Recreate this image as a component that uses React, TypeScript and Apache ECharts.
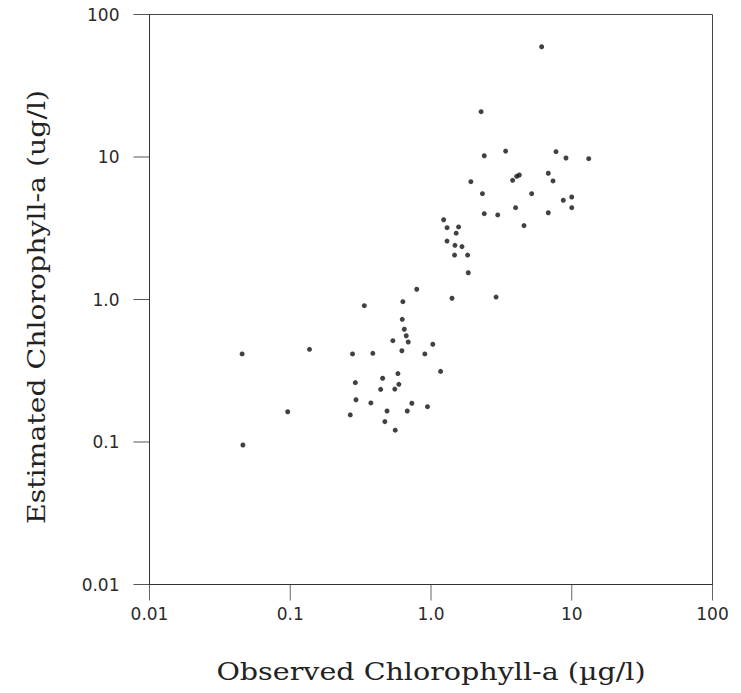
import React, { useEffect, useRef } from "react";
import * as echarts from "echarts";

// Observed chlorophyll-a (µg/l), x values
const observed: number[] = [
  6.11, 2.27, 2.39, 3.39, 7.73, 9.1, 13.2, 1.92, 3.8, 4.06, 4.24, 6.81, 7.36, 2.32, 5.19, 8.71, 10.0, 10.0,
  2.39, 2.98, 3.99, 6.81, 4.58,
  1.23, 1.3, 1.57, 1.51, 1.3, 1.48, 1.66, 1.47, 1.82, 1.84, 1.41, 2.9,
  0.792, 0.336, 0.631, 0.625, 0.646, 0.667, 0.536, 0.689, 0.621, 1.03, 0.904, 0.277, 0.386, 0.582, 1.17,
  0.453, 0.29, 0.439, 0.553, 0.591, 0.293, 0.374, 0.731, 0.944, 0.487, 0.678, 0.267, 0.47, 0.557,
  0.0455, 0.137, 0.0959, 0.0461,
];

// Estimated chlorophyll-a (ug/l), y values
const estimated: number[] = [
  59.4, 20.8, 10.2, 11.0, 10.9, 9.84, 9.73, 6.71, 6.86, 7.32, 7.48, 7.69, 6.79, 5.53, 5.53, 4.97, 5.24, 4.41,
  4.0, 3.92, 4.41, 4.06, 3.3,
  3.63, 3.19, 3.23, 2.92, 2.57, 2.4, 2.35, 2.05, 2.05, 1.54, 1.02, 1.04,
  1.18, 0.905, 0.965, 0.726, 0.618, 0.557, 0.514, 0.503, 0.437, 0.485, 0.415, 0.415, 0.419, 0.302, 0.313,
  0.28, 0.261, 0.234, 0.235, 0.254, 0.198, 0.188, 0.187, 0.177, 0.165, 0.165, 0.155, 0.139, 0.121,
  0.415, 0.447, 0.163, 0.0953,
];

const tickValues: number[] = [0.01, 0.1, 1, 10, 100];
const xTickLabels: string[] = ["0.01", "0.1", "1.0", "10", "100"];
const yTickLabels: string[] = ["0.01", "0.1", "1.0", "10", "100"];

const xTitle = "Observed Chlorophyll-a (\u00b5g/l)";
const yTitle = "Estimated Chlorophyll-a (ug/l)";

const labelFor = (labels: string[]) => (v: number) => {
  const i = Math.round(Math.log10(v)) + 2;
  return labels[i] ?? "";
};

const TICK_LEN = 16;

export default function App() {
  const ref = useRef<HTMLDivElement>(null);

  useEffect(() => {
    if (!ref.current) return;
    const chart = echarts.init(ref.current, undefined, { renderer: "svg" });
    const points = observed.map((x, i) => [x, estimated[i]]);
    const tickFont = {
      fontFamily: "DejaVu Sans",
      fontSize: 17,
      color: "#2a2a2a",
    };
    const axisCommon = {
      type: "log",
      logBase: 10,
      min: 0.01,
      max: 100,
      axisLine: { show: true, lineStyle: { color: "#333", width: 1 } },
      axisTick: { show: false },
      minorTick: { show: false },
      splitLine: { show: false },
    };
    const titles = [
      {
        type: "text",
        x: 431,
        y: 672,
        scaleX: 1.19,
        style: {
          text: xTitle,
          fontFamily: "DejaVu Serif",
          fontSize: 24,
          fill: "#222",
          textAlign: "center",
          textVerticalAlign: "middle",
        },
      },
      {
        type: "text",
        x: 37,
        y: 307,
        rotation: Math.PI / 2,
        scaleX: 1.18,
        style: {
          text: yTitle,
          fontFamily: "DejaVu Serif",
          fontSize: 24,
          fill: "#222",
          textAlign: "center",
          textVerticalAlign: "middle",
        },
      },
    ];
    chart.setOption({
      animation: false,
      backgroundColor: "#ffffff",
      grid: {
        left: 149.5,
        top: 14.5,
        right: 28.5,
        bottom: 108.5,
        show: true,
        borderColor: "#444",
        borderWidth: 1,
        containLabel: false,
        outerBoundsMode: "none",
      },
      xAxis: {
        ...axisCommon,
        axisLabel: { ...tickFont, margin: 21, formatter: labelFor(xTickLabels) },
      },
      yAxis: {
        ...axisCommon,
        axisLabel: { ...tickFont, margin: 30, formatter: labelFor(yTickLabels) },
      },
      graphic: titles,
      series: [
        {
          type: "scatter",
          data: points,
          symbol: "circle",
          symbolSize: 5,
          itemStyle: { color: "#111" },
        },
      ],
    });

    // Tick marks outside the frame, placed through the axes' own scales.
    const x0 = chart.convertToPixel({ xAxisIndex: 0 }, 0.01) as number;
    const yBottom = chart.convertToPixel({ yAxisIndex: 0 }, 0.01) as number;
    const tickLines: any[] = [];
    tickValues.forEach((v) => {
      const px = chart.convertToPixel({ xAxisIndex: 0 }, v) as number;
      const py = chart.convertToPixel({ yAxisIndex: 0 }, v) as number;
      tickLines.push({
        type: "line",
        shape: { x1: px, y1: yBottom, x2: px, y2: yBottom + TICK_LEN },
        style: { stroke: "#666", lineWidth: 1 },
      });
      tickLines.push({
        type: "line",
        shape: { x1: x0 - TICK_LEN, y1: py, x2: x0, y2: py },
        style: { stroke: "#555", lineWidth: 1 },
      });
    });
    chart.setOption({ graphic: [...titles, ...tickLines] });
    return () => chart.dispose();
  }, []);

  return (
    <div
      ref={ref}
      style={{ position: "fixed", left: 0, top: 0, width: 741, height: 693, background: "#fff" }}
    />
  );
}
